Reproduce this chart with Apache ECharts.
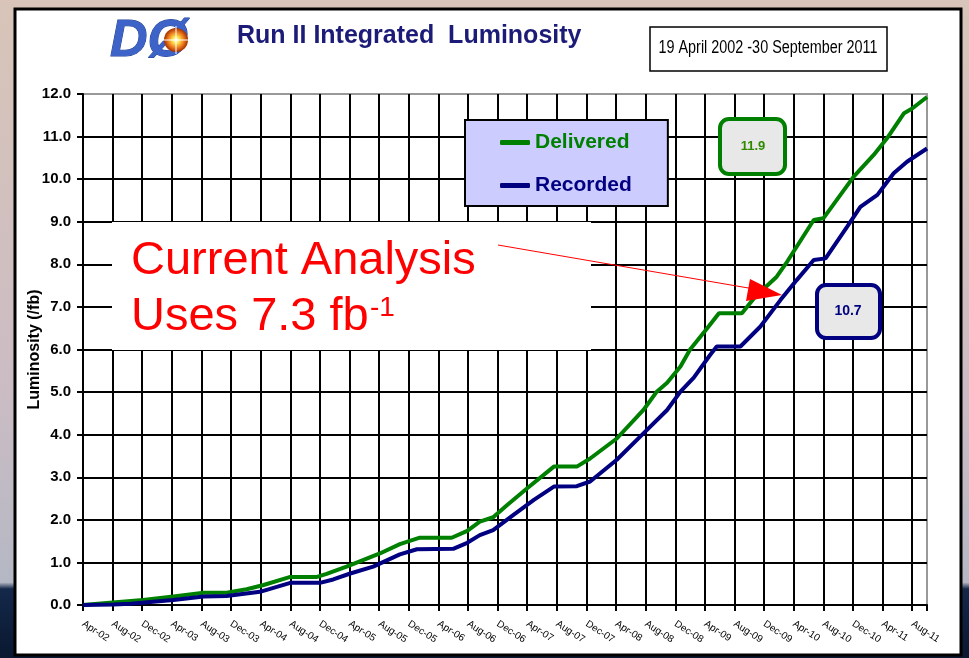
<!DOCTYPE html>
<html>
<head>
<meta charset="utf-8">
<title>Run II Integrated Luminosity</title>
<script src="https://cdn.jsdelivr.net/npm/echarts@6/dist/echarts.min.js"></script>
<style>
    html, body { margin: 0; padding: 0; }
    #chart { width: 969px; height: 658px; }
</style>
</head>
<body>
<div id="chart"></div>
<script>
// x tick labels, one every 4 months starting Apr-02
var xLabels = ['Apr-02', 'Aug-02', 'Dec-02', 'Apr-03', 'Aug-03', 'Dec-03', 'Apr-04', 'Aug-04',
    'Dec-04', 'Apr-05', 'Aug-05', 'Dec-05', 'Apr-06', 'Aug-06', 'Dec-06', 'Apr-07', 'Aug-07',
    'Dec-07', 'Apr-08', 'Aug-08', 'Dec-08', 'Apr-09', 'Aug-09', 'Dec-09', 'Apr-10', 'Aug-10',
    'Dec-10', 'Apr-11', 'Aug-11'];

// months since April 2002 -> integrated luminosity (fb-1)
var deliveredMonths = [0, 3.2, 8.1, 12.2, 16.3, 19.4, 22.1, 24.4, 28, 31.6, 32.9, 35.6, 37.9, 40.1, 42.8,
    45.5, 49.8, 51.9, 53.6, 55.4, 57.3, 60, 63.6, 66.7, 68.5, 72.1, 75.7, 77.5, 78.9, 80.7,
    82, 84.1, 85.9, 89, 90.8, 93.7, 95.1, 98.7, 100, 104.1, 106.8, 108.6, 110.9, 112, 114];
var deliveredLumi = [0, 0.05, 0.12, 0.2, 0.29, 0.29, 0.37, 0.47, 0.66, 0.66, 0.73, 0.9, 1.06, 1.21, 1.43,
    1.58, 1.58, 1.74, 1.96, 2.06, 2.35, 2.74, 3.25, 3.25, 3.44, 3.91, 4.58, 5.01, 5.22, 5.6,
    6.0, 6.45, 6.85, 6.85, 7.24, 7.71, 8.06, 9.04, 9.08, 10.06, 10.57, 10.96, 11.55, 11.66, 11.93];

var recordedMonths = [0, 4.1, 6.4, 12.2, 16.3, 19.4, 23.9, 28, 32, 33.8, 36.1, 39.2, 42.8, 45.1, 50,
    51.9, 53.6, 55.4, 58.1, 60.9, 63.6, 66.7, 68.5, 72.1, 75.7, 78.9, 80.7, 82.5, 84.7, 85.6,
    88.8, 91.5, 94.2, 96.4, 98.7, 100.3, 103.2, 105, 107.3, 109.5, 111.3, 114];
var recordedLumi = [0, 0.01, 0.03, 0.12, 0.2, 0.21, 0.31, 0.52, 0.52, 0.6, 0.74, 0.9, 1.19, 1.31, 1.32,
    1.46, 1.64, 1.76, 2.11, 2.47, 2.78, 2.79, 2.9, 3.41, 4.03, 4.58, 5.01, 5.34, 5.87, 6.07,
    6.07, 6.54, 7.16, 7.63, 8.1, 8.14, 8.88, 9.35, 9.63, 10.14, 10.41, 10.72];

var deliveredTotal = '11.9';
var recordedTotal = '10.7';

(function () {
    var myChart = echarts.init(document.getElementById('chart'));
    var font = '"Liberation Sans", Arial, sans-serif';
    var green = '#008000';
    var navy = '#000080';

    function pairs(xs, ys) {
        return xs.map(function (m, i) { return [m, ys[i]]; });
    }

    var option = {
        animation: false,
        backgroundColor: new echarts.graphic.LinearGradient(0, 0, 0, 1, [
            { offset: 0, color: '#d8c4b8' },
            { offset: 0.6, color: '#cbbcc4' },
            { offset: 0.885, color: '#b4b8c4' },
            { offset: 0.895, color: '#14284a' },
            { offset: 1, color: '#0a1830' }
        ]),
        textStyle: { fontFamily: font },
        grid: {
            left: 83,
            right: 42,
            top: 94,
            bottom: 53,
            show: true,
            borderColor: '#999',
            borderWidth: 2,
            backgroundColor: 'transparent'
        },
        legend: {
            left: 465,
            top: 120,
            orient: 'vertical',
            icon: 'roundRect',
            itemWidth: 30,
            itemHeight: 5,
            itemGap: 22,
            padding: [12, 36, 10, 35],
            backgroundColor: '#ccccff',
            borderColor: '#000',
            borderWidth: 2,
            borderRadius: 0,
            selectedMode: false,
            textStyle: { fontSize: 21, fontWeight: 'bold', fontFamily: font },
            data: [
                { name: 'Delivered', textStyle: { color: green } },
                { name: 'Recorded', textStyle: { color: navy } }
            ]
        },
        xAxis: {
            type: 'value',
            min: 0,
            max: 114,
            interval: 4,
            axisLine: { lineStyle: { color: '#000', width: 2 } },
            axisTick: { show: true, length: 6, lineStyle: { color: '#000', width: 2 } },
            axisLabel: {
                rotate: -33,
                margin: 18,
                fontSize: 10,
                color: '#000',
                formatter: function (v) {
                    var k = v / 4;
                    return (v % 4 === 0 && k < xLabels.length) ? xLabels[k] : '';
                }
            },
            splitLine: { show: true, showMaxLine: false, lineStyle: { color: '#000', width: 2 } }
        },
        yAxis: {
            type: 'value',
            min: 0,
            max: 12,
            interval: 1,
            name: 'Luminosity (/fb)',
            nameLocation: 'middle',
            nameRotate: 90,
            nameGap: 40,
            nameMoveOverlap: false,
            nameTextStyle: { fontSize: 16, fontWeight: 'bold', color: '#000' },
            axisLine: { show: true, lineStyle: { color: '#000', width: 2 } },
            axisTick: { show: true, length: 6, lineStyle: { color: '#000', width: 2 } },
            axisLabel: {
                margin: 12,
                fontSize: 15,
                fontWeight: 'bold',
                color: '#000',
                formatter: function (v) { return v.toFixed(1); }
            },
            splitLine: { show: true, showMaxLine: false, lineStyle: { color: '#000', width: 2 } }
        },
        series: [
            {
                name: 'Delivered',
                type: 'line',
                showSymbol: false,
                color: green,
                lineStyle: { width: 4, color: green },
                data: pairs(deliveredMonths, deliveredLumi)
            },
            {
                name: 'Recorded',
                type: 'line',
                showSymbol: false,
                color: navy,
                lineStyle: { width: 4, color: navy },
                data: pairs(recordedMonths, recordedLumi)
            }
        ],
        graphic: [
            // white slide panel
            {
                type: 'rect', z: -10,
                shape: { x: 15, y: 9, width: 946, height: 646 },
                style: { fill: '#fff', stroke: '#000', lineWidth: 3 }
            },
            // DØ logo
            {
                type: 'text', z: 10,
                style: {
                    text: 'DØ', x: 110, y: 42, textVerticalAlign: 'middle',
                    font: 'italic bold 52px ' + font, fill: '#3d63c9', stroke: '#22408f', lineWidth: 1
                }
            },
            {
                type: 'circle', z: 11,
                shape: { cx: 176, cy: 40, r: 12 },
                style: {
                    fill: new echarts.graphic.RadialGradient(0.5, 0.5, 0.5, [
                        { offset: 0, color: '#ffffff' },
                        { offset: 0.3, color: '#ffe04a' },
                        { offset: 0.7, color: '#e8701a' },
                        { offset: 1, color: '#a03000' }
                    ])
                }
            },
            { type: 'line', z: 12, shape: { x1: 161, y1: 40, x2: 191, y2: 40 }, style: { stroke: '#fff', lineWidth: 1 } },
            { type: 'line', z: 12, shape: { x1: 176, y1: 26, x2: 176, y2: 54 }, style: { stroke: '#fff', lineWidth: 1 } },
            // title + date box
            {
                type: 'text', z: 10,
                style: {
                    text: 'Run II Integrated  Luminosity', x: 237, y: 36, textVerticalAlign: 'middle',
                    font: 'bold 25px ' + font, fill: '#1c1c78'
                }
            },
            {
                type: 'rect', z: 10,
                shape: { x: 650, y: 27, width: 237, height: 44 },
                style: { fill: '#fff', stroke: '#000', lineWidth: 1.5 }
            },
            {
                type: 'text', z: 11,
                x: 768, y: 48, scaleX: 0.8,
                style: {
                    text: '19 April 2002 -30 September 2011', x: 0, y: 0,
                    textAlign: 'center', textVerticalAlign: 'middle',
                    font: '18px ' + font, fill: '#000'
                }
            },
            // the analysis note on a white patch
            {
                type: 'rect', z: 5,
                shape: { x: 112, y: 222, width: 479, height: 128 },
                style: { fill: '#fff' }
            },
            {
                type: 'text', z: 6,
                style: {
                    text: 'Current Analysis', x: 131, y: 261, textVerticalAlign: 'middle',
                    font: '47px ' + font, fill: '#ff0000'
                }
            },
            {
                type: 'text', z: 6,
                style: {
                    text: 'Uses 7.3 fb', x: 131, y: 317, textVerticalAlign: 'middle',
                    font: '47px ' + font, fill: '#ff0000'
                }
            },
            {
                type: 'text', z: 6,
                style: {
                    text: '-1', x: 370, y: 308, textVerticalAlign: 'middle',
                    font: '28px ' + font, fill: '#ff0000'
                }
            },
            {
                type: 'line', z: 20,
                shape: { x1: 498, y1: 245, x2: 760, y2: 290 },
                style: { stroke: '#ff0000', lineWidth: 1 }
            },
            {
                type: 'polygon', z: 20,
                shape: { points: [[782, 295], [750, 279], [746, 301]] },
                style: { fill: '#ff0000' }
            },
            // end value boxes
            {
                type: 'rect', z: 10,
                shape: { x: 720, y: 119, width: 65, height: 55, r: 9 },
                style: { fill: '#e8e8e8', stroke: green, lineWidth: 4 }
            },
            {
                type: 'text', z: 11,
                style: {
                    text: deliveredTotal, x: 753, y: 146, textAlign: 'center', textVerticalAlign: 'middle',
                    font: 'bold 13px ' + font, fill: '#2e8b00'
                }
            },
            {
                type: 'rect', z: 10,
                shape: { x: 817, y: 285, width: 63, height: 53, r: 9 },
                style: { fill: '#e8e8e8', stroke: navy, lineWidth: 4 }
            },
            {
                type: 'text', z: 11,
                style: {
                    text: recordedTotal, x: 848, y: 311, textAlign: 'center', textVerticalAlign: 'middle',
                    font: 'bold 14px ' + font, fill: navy
                }
            }
        ]
    };
    myChart.setOption(option);
    window.addEventListener('resize', function () {
        myChart.resize();
    });
})();
</script>
</body>
</html>
